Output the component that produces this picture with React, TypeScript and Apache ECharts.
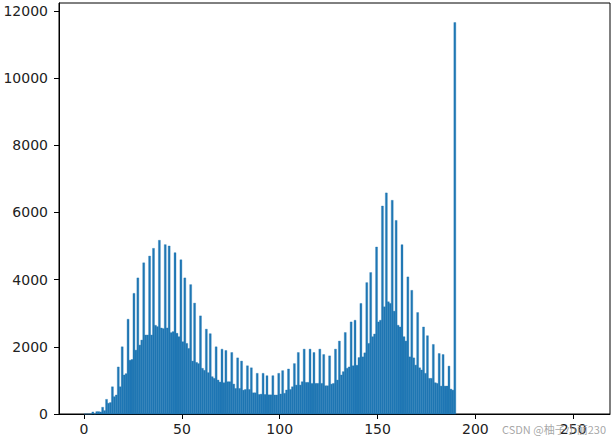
import React, { useEffect, useRef } from "react";
import * as echarts from "echarts";

// Histogram counts for intensity levels 0..189 (bins of width 1)
const counts: number[] = [
  0, 0, 0, 0, 60, 0, 70, 70, 60, 200,
  100, 435, 320, 340, 810, 515, 565, 1400, 810, 2000,
  1160, 1200, 2820, 1600, 1620, 3590, 1900, 4050, 2050, 2200,
  4500, 2350, 2350, 4700, 2350, 4930, 2640, 2600, 5170, 2560,
  2540, 5040, 2560, 5000, 2420, 2450, 4800, 2400, 2300, 4590,
  2150, 4050, 2100, 1950, 3850, 1575, 3300, 1535, 1500, 2920,
  1360, 1300, 2525, 1230, 2390, 1110, 1060, 2000, 1010, 950,
  1930, 930, 1890, 960, 960, 1830, 890, 760, 1670, 760,
  1575, 710, 730, 1435, 730, 1375, 630, 630, 1210, 580,
  590, 1210, 580, 1140, 570, 570, 1140, 565, 565, 1210,
  595, 1290, 615, 715, 1340, 730, 810, 1500, 860, 1830,
  860, 960, 1930, 940, 940, 1930, 910, 1830, 910, 910,
  1930, 910, 1770, 840, 840, 1730, 890, 910, 1930, 1010,
  2170, 1160, 1260, 2425, 1360, 1400, 2740, 1435, 2790, 1450,
  1680, 3290, 1700, 1820, 3910, 2100, 4210, 2300, 2380, 4970,
  2740, 2790, 6190, 3190, 6580, 3340, 3290, 6360, 3060, 5760,
  2640, 2590, 5040, 2300, 2170, 4080, 1700, 3680, 1670, 1455,
  3020, 1375, 1310, 2590, 1210, 2330, 1060, 1060, 2070, 930,
  910, 1800, 830, 1770, 830, 830, 1425, 740, 710, 11650,
];

const xTicks: number[] = [0, 50, 100, 150, 200, 250];
const yTicks: number[] = [0, 2000, 4000, 6000, 8000, 10000, 12000];
const watermark = "CSDN @柚子小丽230";

export default function App() {
  const ref = useRef<HTMLDivElement>(null);
  useEffect(() => {
    document.body.style.margin = "0";
    if (!ref.current) return;
    const chart = echarts.init(ref.current, null, { renderer: "svg" });
    const data = counts.map((v, i) => [i, v]);
    const font = "DejaVu Sans";
    chart.setOption({
      animation: false,
      grid: {
        left: 59,
        right: 4,
        top: 3,
        bottom: 25,
        show: true,
        borderColor: "#000",
        borderWidth: 1,
        backgroundColor: "#fff",
      },
      xAxis: {
        type: "value",
        min: -12.8,
        max: 268.8,
        splitLine: { show: false },
        axisLine: { show: true, onZero: false, lineStyle: { color: "#000", width: 1 } },
        axisTick: { show: true, length: 5, customValues: xTicks, lineStyle: { color: "#000" } },
        axisLabel: {
          customValues: xTicks,
          margin: 8,
          fontFamily: font,
          fontSize: 14,
          color: "#222",
          formatter: (v: number) => String(v),
        },
      },
      yAxis: {
        type: "value",
        min: 0,
        max: 12232,
        splitLine: { show: false },
        axisLine: { show: true, onZero: false, lineStyle: { color: "#000", width: 1 } },
        axisTick: { show: true, length: 5, customValues: yTicks, lineStyle: { color: "#000" } },
        axisLabel: {
          customValues: yTicks,
          margin: 11,
          fontFamily: font,
          fontSize: 14,
          color: "#222",
          formatter: (v: number) => String(v),
        },
      },
      series: [
        {
          type: "custom",
          data,
          encode: { x: 0, y: 1 },
          renderItem: (params: any, api: any) => {
            const x = api.value(0);
            const y = api.value(1);
            const p0 = api.coord([x, 0]);
            const p1 = api.coord([x + 1, y]);
            return {
              type: "rect",
              shape: { x: p0[0], y: p1[1], width: p1[0] - p0[0], height: p0[1] - p1[1] },
              style: { fill: "#1f77b4", stroke: "#1f77b4", lineWidth: 0.35 },
            };
          },
        },
      ],
      graphic: [
        {
          type: "text",
          right: 8,
          bottom: 5,
          style: {
            text: watermark,
            fill: "rgba(150,150,150,0.85)",
            font: "11px 'Noto Sans CJK SC', sans-serif",
          },
          z: 100,
        },
      ],
    });
    return () => chart.dispose();
  }, []);
  return <div ref={ref} style={{ width: 614, height: 439 }} />;
}
